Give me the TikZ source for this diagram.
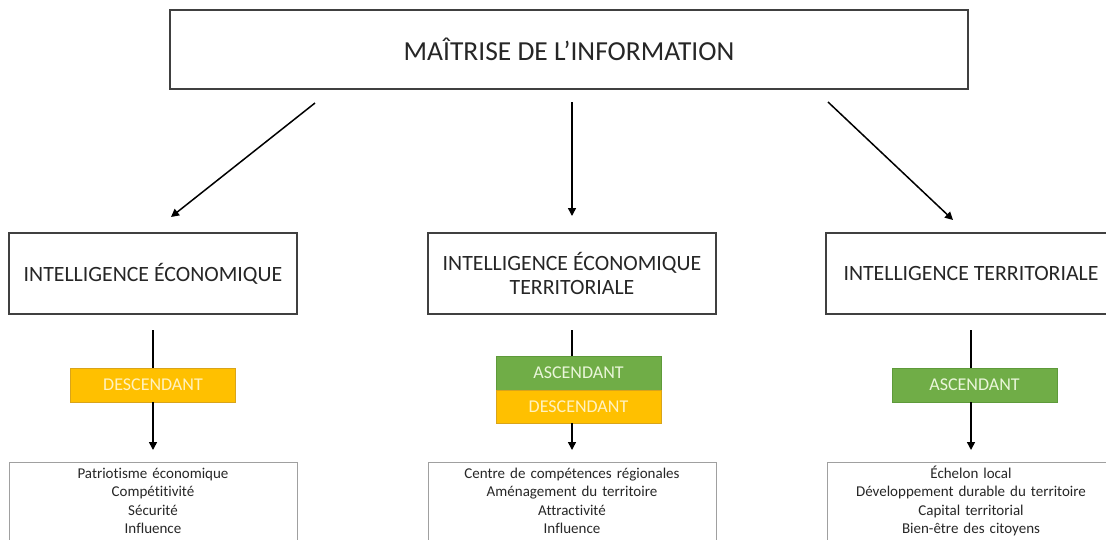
\documentclass[tikz,border=0pt]{standalone}
\usepackage{fontspec}
\setmainfont{Carlito}[Ligatures={NoCommon}]
\usetikzlibrary{arrows.meta,calc}
\definecolor{orangeB}{HTML}{FFC000}
\definecolor{orangeD}{HTML}{D9A41A}
\definecolor{greenB}{HTML}{70AD47}
\definecolor{greenD}{HTML}{5E9A3A}
\definecolor{boxgray}{HTML}{404040}
\definecolor{lowgray}{HTML}{A0A0A0}
\definecolor{txt}{HTML}{262626}
\definecolor{otxt}{HTML}{FFF2C0}
\definecolor{gtxt}{HTML}{EAF6DA}
\tikzset{
  box/.style={draw=boxgray, line width=1.2pt, fill=white, inner sep=0pt, outer sep=0pt, align=center, text=txt},
  tag/.style={line width=0.8pt, inner sep=0pt, outer sep=0pt, minimum width=165pt, font=\fontsize{18}{21}\selectfont},
  desc/.style={tag, fill=orangeB, draw=orangeD, text=otxt},
  asc/.style={tag, fill=greenB, draw=greenD, text=gtxt},
  lowtext/.style={anchor=north, text width=280pt, inner xsep=4pt, inner ysep=6pt, outer sep=0pt, text height=10.5pt, align=center, text=txt, font=\fontsize{15}{18.3}\selectfont},
  lowbox/.style={draw=lowgray, line width=0.9pt},
  arr/.style={line width=1.5pt, -{Triangle[length=8pt,width=8pt]}},
  plain/.style={line width=1.5pt}
}
\begin{document}
\begin{tikzpicture}[x=1pt,y=-1pt]
\useasboundingbox (0,0) rectangle (1106,539);
\clip (0,0) rectangle (1106,539);

% top
\node[box, minimum width=798pt, minimum height=79pt, font=\fontsize{27.5}{31}\selectfont] (top) at (569,49.5) {MAÎTRISE DE L’INFORMATION};

% middle row
\node[box, minimum width=288pt, minimum height=81pt, font=\fontsize{21.8}{24}\selectfont] (ie) at (153,273.5) {INTELLIGENCE ÉCONOMIQUE};
\node[box, minimum width=288pt, minimum height=81pt, font=\fontsize{21.8}{24}\selectfont] (iet) at (572,273.5) {INTELLIGENCE ÉCONOMIQUE\\TERRITORIALE};
\node[box, minimum width=290pt, minimum height=81pt, font=\fontsize{21.8}{24}\selectfont] (it) at (971,273.5) {INTELLIGENCE TERRITORIALE};

% tags
\node[desc, minimum height=34pt] (d1) at (153,385) {DESCENDANT};
\node[asc, minimum height=34pt] (a2) at (578.5,373) {ASCENDANT};
\node[desc, minimum height=33pt] (d2) at (578.5,406.5) {DESCENDANT};
\node[asc, minimum height=34pt] (a3) at (974.5,385) {ASCENDANT};

% bottom lists
\node[lowtext] (b1) at (153,462) {Patriotisme économique\\Compétitivité\\Sécurité\\Influence};
\node[lowtext] (b2) at (572,462) {Centre de compétences régionales\\Aménagement du territoire\\Attractivité\\Influence};
\node[lowtext] (b3) at (971,462) {Échelon local\\Développement durable du territoire\\Capital territorial\\Bien-être des citoyens};
\draw[lowbox] ([xshift=-144pt]b1.north) rectangle ([xshift=144pt,yshift=-100pt]b1.north);
\draw[lowbox] ([xshift=-144pt]b2.north) rectangle ([xshift=144pt,yshift=-100pt]b2.north);
\draw[lowbox] ([xshift=-144pt]b3.north) rectangle ([xshift=146pt,yshift=-100pt]b3.north);

% arrows from top
\draw[arr] ([xshift=-254pt,yshift=-14pt]top.south) -- ([xshift=18pt,yshift=16pt]ie.north);
\draw[arr, shorten <=13pt, shorten >=17pt] (top.south -| iet.north) -- (iet.north);
\draw[arr] ([xshift=259pt,yshift=-13pt]top.south) -- ([xshift=-18pt,yshift=13pt]it.north);

% vertical connectors
\draw[plain, shorten <=16pt] (ie.south) -- (d1.north);
\draw[arr, shorten >=12pt] (d1.south) -- (b1.north);
\draw[plain, shorten <=16pt] (iet.south) -- (iet.south |- a2.north);
\draw[arr, shorten >=12pt] (d2.south -| iet.south) -- (b2.north);
\draw[plain, shorten <=16pt] (it.south) -- (it.south |- a3.north);
\draw[arr, shorten >=12pt] (a3.south -| it.south) -- (b3.north);
\end{tikzpicture}
\end{document}
